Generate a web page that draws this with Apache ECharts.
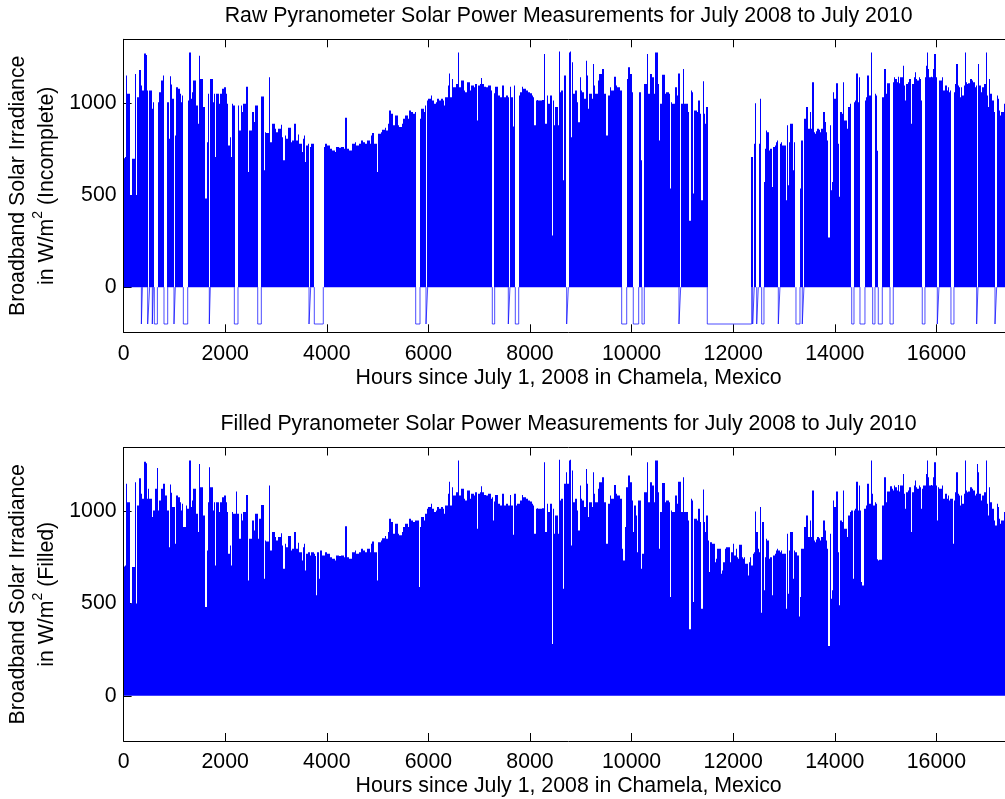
<!DOCTYPE html>
<html>
<head>
<meta charset="utf-8">
<script src="https://cdn.jsdelivr.net/npm/echarts@6/dist/echarts.min.js"></script>
<style>
  html, body { margin: 0; padding: 0; overflow: hidden; background: #fff; width: 1005px; height: 799px; }
  #chart { width: 1100px; height: 799px; }
</style>
</head>
<body>
<div id="chart"></div>
<script>
// Two years of hourly pyranometer readings, July 2008 - July 2010 (730 days).
const HOURS = 17520;
const xTickValues = [0, 2000, 4000, 6000, 8000, 10000, 12000, 14000, 16000];
const yTickValues = [0, 500, 1000];
const MISSING_FLAG = -200;   // raw logger value written for missing hours

// Midday peak irradiance for each day (W/m^2), day 0 = July 1, 2008.
const dailyPeak = [
  700, 706, 1148, 1049, 1049, 500, 500, 697, 697, 1157,
  500, 1031, 1031, 1178, 1094, 1067, 1067, 1268, 1260, 1067,
  1121, 1067, 1067, 968, 1004, 1004, 1121, 1234, 1004, 1058,
  1058, 1121, 1148, 1148, 1085, 1085, 1004, 805, 1144, 1100,
  1022, 1022, 823, 1085, 1085, 1076, 1049, 1004, 1040, 914,
  914, 1031, 1013, 1013, 1274, 1022, 1058, 1121, 1121, 986,
  986, 887, 1256, 1130, 1130, 977, 977, 481, 787, 1049,
  1238, 1130, 1130, 1004, 1049, 706, 1049, 1049, 995, 1049,
  1049, 1076, 1085, 1085, 1049, 995, 769, 814, 706, 995,
  986, 986, 1106, 986, 986, 850, 986, 950, 995, 995,
  1088, 1088, 625, 850, 850, 950, 950, 896, 986, 986,
  850, 959, 959, 1034, 1034, 634, 841, 836, 836, 1139,
  787, 787, 887, 887, 860, 841, 841, 860, 860, 881,
  814, 688, 823, 805, 805, 865, 865, 787, 796, 796,
  887, 796, 796, 829, 778, 778, 733, 805, 823, 679,
  769, 778, 778, 760, 778, 778, 769, 757, 544, 778,
  634, 787, 787, 760, 760, 778, 778, 769, 769, 751,
  751, 742, 742, 733, 760, 760, 760, 757, 760, 760,
  760, 751, 919, 751, 751, 742, 742, 778, 778, 778,
  787, 769, 769, 778, 778, 796, 787, 787, 778, 778,
  796, 796, 778, 823, 836, 778, 778, 778, 625, 832,
  832, 841, 854, 854, 865, 850, 850, 887, 959, 941,
  941, 878, 878, 932, 932, 878, 869, 869, 887, 914,
  914, 932, 932, 914, 959, 959, 950, 941, 941, 950,
  950, 950, 589, 914, 968, 968, 950, 986, 986, 1013,
  1022, 1022, 1040, 1013, 1013, 995, 1004, 1022, 1022, 1013,
  1022, 1022, 1013, 986, 1031, 1031, 1094, 1160, 1031, 1130,
  1085, 1085, 1085, 1103, 1274, 1085, 1085, 1121, 1121, 1067,
  1058, 1058, 1112, 1112, 1067, 1094, 1094, 1085, 1103, 1103,
  905, 1094, 1103, 1135, 1103, 1103, 1088, 1085, 1085, 1094,
  1094, 1067, 1076, 950, 1052, 1088, 1088, 1040, 1040, 1031,
  1094, 1094, 1031, 1031, 1040, 1031, 1031, 1088, 1031, 872,
  1094, 1094, 1031, 1040, 1040, 1058, 1058, 1088, 1076, 1076,
  1067, 1067, 1058, 1052, 1052, 1040, 1031, 878, 1013, 1016,
  1013, 1013, 1013, 1016, 1016, 1265, 887, 1040, 995, 995,
  1040, 280, 1013, 878, 977, 977, 878, 1279, 1058, 1067,
  580, 1148, 1148, 1211, 1148, 1274, 1279, 814, 1220, 1049,
  1067, 1067, 1004, 895, 1139, 1067, 1058, 1058, 1022, 1229,
  1148, 968, 1049, 1049, 1022, 1211, 1094, 1049, 1049, 1121,
  1157, 1157, 1184, 1184, 1049, 1049, 823, 1040, 1040, 1085,
  1067, 1067, 1142, 1142, 1094, 1085, 1085, 1067, 1067, 796,
  733, 914, 1130, 1130, 1193, 1157, 1157, 1058, 887, 1031,
  977, 778, 1058, 1058, 688, 769, 769, 1103, 1103, 1265,
  1049, 1049, 1157, 1139, 1139, 1049, 1274, 1274, 1103, 796,
  995, 995, 1153, 1153, 1049, 1058, 1058, 1049, 535, 1004,
  995, 995, 1085, 1085, 1040, 1160, 1160, 995, 995, 1184,
  995, 995, 995, 950, 360, 1067, 1058, 508, 959, 959,
  950, 1013, 1013, 941, 472, 1117, 941, 887, 977, 841,
  670, 832, 832, 823, 823, 724, 742, 796, 796, 796,
  661, 679, 724, 796, 805, 805, 805, 724, 778, 778,
  823, 760, 796, 751, 742, 818, 818, 751, 742, 751,
  715, 715, 652, 724, 751, 706, 769, 778, 998, 887,
  796, 778, 1022, 450, 941, 571, 751, 850, 841, 742,
  751, 751, 544, 760, 769, 787, 796, 787, 778, 787,
  769, 769, 769, 472, 878, 553, 787, 887, 887, 634,
  787, 778, 760, 760, 430, 535, 796, 796, 914, 914,
  977, 860, 860, 950, 860, 1112, 841, 832, 846, 860,
  854, 841, 860, 860, 950, 896, 841, 796, 270, 878,
  526, 571, 1058, 1022, 1106, 1106, 778, 490, 950, 941,
  1112, 905, 905, 860, 977, 977, 995, 1004, 634, 1004,
  1013, 1160, 1004, 1139, 1004, 616, 598, 1013, 1013, 1031,
  1148, 1040, 1040, 1274, 1094, 1031, 1049, 1040, 740, 733,
  737, 737, 1031, 1031, 1184, 1049, 1106, 1106, 1106, 1135,
  1121, 1112, 1139, 1130, 1112, 1142, 1106, 1139, 1139, 1202,
  1094, 1013, 1103, 1112, 1130, 1130, 887, 1103, 1139, 1166,
  1130, 1121, 1139, 1130, 1013, 1121, 1139, 1139, 1202, 1274,
  1184, 1139, 1142, 1139, 1184, 1265, 1139, 950, 1130, 1121,
  1121, 1139, 1067, 1067, 1094, 1067, 1085, 1058, 1067, 1067,
  823, 1058, 1103, 1211, 1094, 1085, 1031, 1085, 1040, 1094,
  1274, 1112, 1103, 1106, 1130, 1130, 1121, 1112, 1085, 1094,
  1256, 1211, 1094, 1058, 1085, 1085, 1103, 1274, 1040, 977,
  1130, 1049, 1013, 1013, 950, 922, 1040, 1022, 959, 932,
  950, 950, 995, 950, 945, 950, 940, 950, 945, 950
];

// Hour ranges [start, end] with no logger record in the raw file.
const rawGaps = [
  [350, 370], [474, 513], [565, 585], [605, 665], [795, 868], [992, 1018],
  [1176, 1262], [1687, 1707], [2180, 2252], [2640, 2711], [3650, 3683],
  [3754, 3931], [5750, 5835], [5953, 5986], [7258, 7305], [7573, 7606],
  [7711, 7778], [8722, 8755], [9805, 9904], [10033, 10140], [10205, 10250],
  [10933, 10967], [11490, 12364], [12384, 12415], [12463, 12494],
  [12561, 12606], [12888, 12921], [13236, 13315], [13360, 13393],
  [14333, 14378], [14496, 14594], [14746, 14791], [14856, 14935],
  [15087, 15151], [15722, 15775], [16018, 16051], [16287, 16346],
  [16793, 16819], [17154, 17187]
];

const FONT = '"Liberation Sans", Arial, Helvetica, sans-serif';
const FS = 21.3;
const BLUE = '#0000ff';

function inGap(h) {
  return rawGaps.some(g => h >= g[0] && h <= g[1]);
}

// [day, peak] items; days lost in the raw record are left out.
const filledItems = dailyPeak.map((v, d) => [d, v]);
const rawItems = dailyPeak.map((v, d) => [d, v]).filter(it => !inGap(it[0] * 24 + 12));

// Missing hours are logged at the flag value: trace drops to it across each gap.
const gapTrace = [];
rawGaps.forEach(g => {
  gapTrace.push([g[0], 0], [g[0], MISSING_FLAG], [g[1], MISSING_FLAG], [g[1], 0], [g[1], '-']);
});

// One solid column per day, from 0 up to that day's peak, snapped to whole pixels.
function renderDay(params, api) {
  const d = api.value(0);
  const v = api.value(1);
  const base = api.coord([d * 24, 0]);
  const top = api.coord([(d + 1) * 24, v]);
  const x0 = Math.round(base[0]);
  const x1 = Math.round(top[0]);
  return {
    type: 'rect',
    shape: { x: x0, y: top[1], width: Math.max(1, x1 - x0), height: base[1] - top[1] },
    style: { fill: BLUE }
  };
}

const grids = [
  { left: 123.6, top: 39.3, width: 890, height: 293 },
  { left: 123.6, top: 447.5, width: 890, height: 293.5 }
];

const axisLine = { onZero: false, lineStyle: { color: '#000', width: 1 } };
const tickStyle = { color: '#000', width: 1 };
const plain = v => String(v);

function xAxes(gi) {
  return [
    {
      gridIndex: gi, type: 'value', min: 0, max: HOURS, position: 'bottom',
      axisLine: axisLine,
      axisTick: { inside: true, length: 8, customValues: xTickValues, lineStyle: tickStyle },
      axisLabel: { customValues: xTickValues, formatter: plain, fontSize: FS, fontFamily: FONT, color: '#000', margin: 11 },
      splitLine: { show: false }
    },
    {
      gridIndex: gi, type: 'value', min: 0, max: HOURS, position: 'top',
      axisLine: axisLine,
      axisTick: { inside: true, length: 8, customValues: xTickValues, lineStyle: tickStyle },
      axisLabel: { show: false },
      splitLine: { show: false }
    }
  ];
}

function yAxes(gi) {
  return [
    {
      gridIndex: gi, type: 'value', min: -245, max: 1345, position: 'left',
      axisLine: Object.assign({ show: true }, axisLine),
      axisTick: { show: true, inside: true, length: 8, customValues: yTickValues, lineStyle: tickStyle },
      axisLabel: { customValues: yTickValues, formatter: plain, fontSize: FS, fontFamily: FONT, color: '#000', margin: 7 },
      splitLine: { show: false }
    },
    {
      gridIndex: gi, type: 'value', min: -245, max: 1345, position: 'right',
      axisLine: Object.assign({ show: true }, axisLine),
      axisTick: { show: true, inside: true, length: 8, customValues: yTickValues, lineStyle: tickStyle },
      axisLabel: { show: false },
      splitLine: { show: false }
    }
  ];
}

function textEl(x, y, text, extra) {
  return Object.assign({
    type: 'text', x: x, y: y, silent: true,
    style: {
      text: text, fill: '#000', fontSize: FS, fontFamily: FONT,
      align: 'center', verticalAlign: 'middle',
      textAlign: 'center', textVerticalAlign: 'middle'
    }
  }, extra || {});
}

function yLabel(x, y, text) {
  const el = textEl(x, y, text, { rotation: Math.PI / 2 });
  el.style.rich = {
    sup: { fontSize: 14, fontFamily: FONT, fill: '#000', padding: [0, 0, 18, 0], verticalAlign: 'bottom' }
  };
  return el;
}

const midX = 123.6 + 890 / 2;

const option = {
  animation: false,
  backgroundColor: '#fff',
  grid: grids,
  xAxis: xAxes(0).concat(xAxes(1)),
  yAxis: yAxes(0).concat(yAxes(1)),
  graphic: [
    textEl(midX, 16, 'Raw Pyranometer Solar Power Measurements for July 2008 to July 2010'),
    textEl(midX, 378, 'Hours since July 1, 2008 in Chamela, Mexico'),
    yLabel(18.5, 185.8, 'Broadband Solar Irradiance'),
    yLabel(47, 185.8, 'in W/m{sup|2} (Incomplete)'),
    textEl(midX, 424, 'Filled Pyranometer Solar Power Measurements for July 2008 to July 2010'),
    textEl(midX, 786, 'Hours since July 1, 2008 in Chamela, Mexico'),
    yLabel(18.5, 594.3, 'Broadband Solar Irradiance'),
    yLabel(47, 594.3, 'in W/m{sup|2} (Filled)')
  ],
  series: [
    {
      name: 'raw', type: 'custom', xAxisIndex: 0, yAxisIndex: 0,
      data: rawItems, renderItem: renderDay, clip: true, silent: true
    },
    {
      name: 'missing', type: 'line', xAxisIndex: 0, yAxisIndex: 0,
      data: gapTrace, showSymbol: false, symbol: 'none', connectNulls: false, silent: true,
      lineStyle: { color: BLUE, width: 1, opacity: 0.7 }
    },
    {
      name: 'filled', type: 'custom', xAxisIndex: 2, yAxisIndex: 2,
      data: filledItems, renderItem: renderDay, clip: true, silent: true
    }
  ]
};

const chart = echarts.init(document.getElementById('chart'), null, { renderer: 'canvas' });
chart.setOption(option);
</script>
</body>
</html>
